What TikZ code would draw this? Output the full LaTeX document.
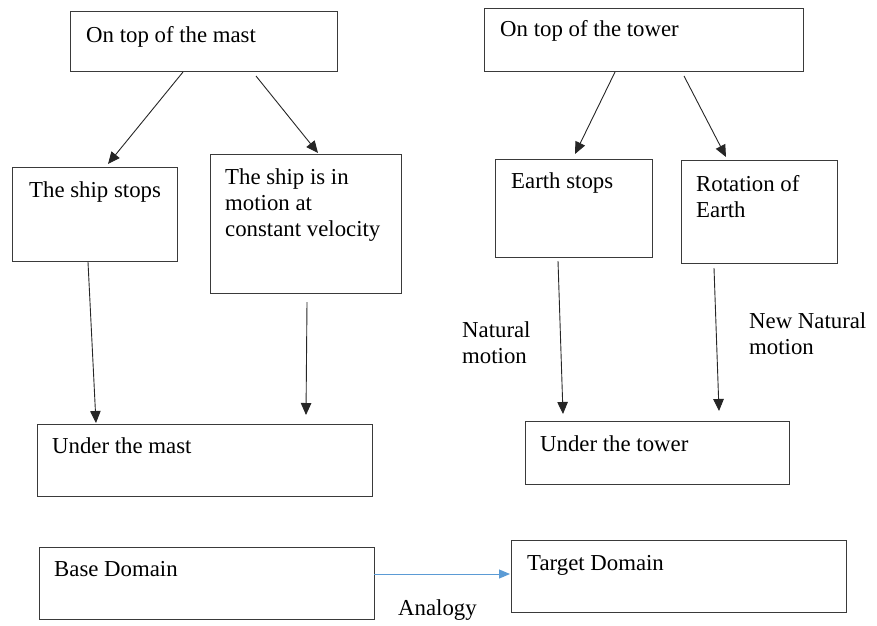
\documentclass[tikz,border=0pt]{standalone}
\usepackage{fontspec}
\setmainfont{Liberation Serif}
\usetikzlibrary{arrows.meta}
\definecolor{boxline}{HTML}{3A3A3A}
\definecolor{analogyblue}{HTML}{5B9BD5}
\begin{document}
\begin{tikzpicture}[x=1pt,y=-1pt,
  panel/.style={draw=boxline,line width=1pt,inner sep=0pt,anchor=north west},
  lbl/.style={anchor=base west,inner sep=0pt,font=\fontsize{22.8pt}{26pt}\selectfont,align=left},
  link/.style={draw=black!85,line width=0.9pt,-{Triangle[length=12pt,width=10.5pt]}},
  analogy/.style={draw=analogyblue,line width=1pt,-{Triangle[length=11pt,width=9pt]}}
]
\useasboundingbox (0,0) rectangle (877,625);
% boxes
\node[panel,minimum width=267pt,minimum height=60pt]  (b1)  at (70,11)  {};
\node[panel,minimum width=165pt,minimum height=94pt]  (b2)  at (12,167) {};
\node[panel,minimum width=191pt,minimum height=139pt] (b3)  at (210,154) {};
\node[panel,minimum width=335pt,minimum height=72pt]  (b4)  at (37,424) {};
\node[panel,minimum width=319pt,minimum height=63pt]  (b5)  at (484,8)  {};
\node[panel,minimum width=157pt,minimum height=98pt]  (b6)  at (495,159) {};
\node[panel,minimum width=156pt,minimum height=103pt] (b7)  at (681,160) {};
\node[panel,minimum width=264pt,minimum height=63pt]  (b8)  at (525,421) {};
\node[panel,minimum width=335pt,minimum height=72pt]  (b9)  at (39,547) {};
\node[panel,minimum width=335pt,minimum height=72pt]  (b10) at (511,540) {};
% box texts (multi-line nodes are placed by the baseline of their last line)
\node[lbl] (t1)  at (86,42)   {On top of the mast};
\node[lbl] (t2)  at (29,197)  {The ship stops};
\node[lbl] (t3)  at (225,236) {The ship is in\\motion at\\constant velocity};
\node[lbl] (t4)  at (52,453)  {Under the mast};
\node[lbl] (t5)  at (500,36)  {On top of the tower};
\node[lbl] (t6)  at (511,188) {Earth stops};
\node[lbl] (t7)  at (696,217) {Rotation of\\Earth};
\node[lbl] (t8)  at (540,451) {Under the tower};
\node[lbl] (t9)  at (54,576)  {Base Domain};
\node[lbl] (t10) at (527,570) {Target Domain};
% free labels
\node[lbl] (nat)    at (462,363) {Natural\\motion};
\node[lbl] (newnat) at (749,354) {New Natural\\motion};
\node[lbl] (ana)    at (398,615) {Analogy};
% arrow end points
\coordinate (a1s) at (183,72);  \coordinate (a1e) at (108,164);
\coordinate (a2s) at (256,76);  \coordinate (a2e) at (318,153);
\coordinate (a3s) at (88,262);  \coordinate (a3e) at (96,423);
\coordinate (a4s) at (307,302); \coordinate (a4e) at (306,415);
\coordinate (a5s) at (615,72);  \coordinate (a5e) at (575,154);
\coordinate (a6s) at (684,76);  \coordinate (a6e) at (726,157);
\coordinate (a7s) at (558,261); \coordinate (a7e) at (563,414);
\coordinate (a8s) at (714,268); \coordinate (a8e) at (719,411);
\coordinate (bls) at (374,574); \coordinate (ble) at (510,574);
\draw[link] (a1s) -- (a1e);
\draw[link] (a2s) -- (a2e);
\draw[link] (a3s) -- (a3e);
\draw[link] (a4s) -- (a4e);
\draw[link] (a5s) -- (a5e);
\draw[link] (a6s) -- (a6e);
\draw[link] (a7s) -- (a7e);
\draw[link] (a8s) -- (a8e);
\draw[analogy] (bls) -- (ble);
\end{tikzpicture}
\end{document}
